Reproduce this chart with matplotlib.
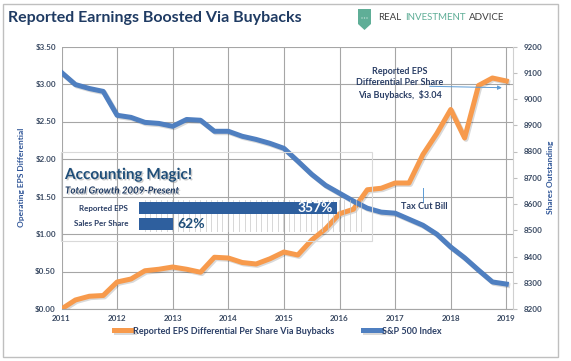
import numpy as np
import matplotlib
matplotlib.use('Agg')
import matplotlib.pyplot as plt
import matplotlib.patheffects as pe
from matplotlib.patches import Rectangle, Polygon, Circle

plt.rcParams['font.family'] = ['Lato', 'DejaVu Sans']

# Daten (quartalsweise 2011 - 2019)
quarters = np.arange(2011, 2019.01, 0.25)
eps_diff = [0.00, 0.12, 0.17, 0.18, 0.36, 0.40, 0.51, 0.53, 0.56, 0.53, 0.49, 0.69,
            0.68, 0.62, 0.60, 0.67, 0.76, 0.72, 0.92, 1.07, 1.27, 1.33, 1.59, 1.61,
            1.68, 1.68, 2.06, 2.34, 2.66, 2.28, 2.98, 3.08, 3.04]
shares = [9101, 9055, 9040, 9029, 8938, 8930, 8911, 8907, 8896, 8922, 8919, 8877,
          8877, 8858, 8846, 8831, 8812, 8763, 8713, 8671, 8641, 8611, 8584, 8569,
          8565, 8542, 8519, 8485, 8436, 8395, 8348, 8303, 8295]
years = list(range(2011, 2020))
left_ticks = [0, 0.5, 1.0, 1.5, 2.0, 2.5, 3.0, 3.5]
right_ticks = list(range(8200, 9201, 100))

growth_labels = ['Reported EPS', 'Sales Per Share']
growth_values = [357, 62]

W, H = 571, 361
navy = '#1F3B63'
tickc = '#3A4A63'
orange = '#F79A4C'
blue = '#4F7FC0'
grid = '#A6A6A6'


def fx(x):
    return x / W


def fy(y):
    return 1 - y / H


fig = plt.figure(figsize=(W / 100, H / 100), dpi=100)

# Rahmen
fig.patches.append(Rectangle((fx(3), fy(357)), fx(555), 353 / H, transform=fig.transFigure,
                             fill=False, edgecolor='#BFBFBF', lw=1))

ax = fig.add_axes([fx(61.5), fy(309), fx(513 - 61.5), (309 - 46.5) / H])
ax2 = ax.twinx()

ax.plot(quarters, eps_diff, color=orange, lw=3.6, solid_joinstyle='round',
        path_effects=[pe.SimpleLineShadow(offset=(1, -1), alpha=0.15), pe.Normal()],
        label='Reported EPS Differential Per Share Via Buybacks')
ax2.plot(quarters, shares, color=blue, lw=3.6, solid_joinstyle='round',
         path_effects=[pe.SimpleLineShadow(offset=(1, -1), alpha=0.15), pe.Normal()],
         label='S&P 500 Index')

ax.set_xlim(2011, 2019.12)
ax.set_ylim(0, 3.5)
ax2.set_ylim(8200, 9200)
ax.set_xticks(years)
ax.set_yticks(left_ticks)
ax.set_yticklabels(['${:.2f}'.format(v) for v in left_ticks])
ax2.set_yticks(right_ticks)

ax.grid(True, color=grid, lw=0.8)
ax.set_axisbelow(True)
for a in (ax, ax2):
    for s in a.spines.values():
        s.set_visible(False)
ax2.spines['right'].set_visible(True)
ax2.spines['right'].set_color('#D0D0D0')
ax.spines['bottom'].set_visible(True)
ax.spines['bottom'].set_color(grid)

ax.tick_params(axis='both', length=0, labelsize=5.8, colors=tickc, pad=4)
ax2.tick_params(axis='y', length=3, color='#BFBFBF', labelsize=5.8, labelcolor=tickc, pad=5)
for lab in ax.get_xticklabels() + ax.get_yticklabels() + ax2.get_yticklabels():
    lab.set_fontweight('bold')

ax.set_ylabel('Operating EPS Differential', fontsize=6, fontweight='bold', color='#2F5597', labelpad=7)
ax2.set_ylabel('Shares Outstanding', fontsize=6, fontweight='bold', color='#2F5597', labelpad=3)

# Annotationen
ax.annotate('', xy=(2018.97, 2.95), xytext=(2017.57, 2.97),
            arrowprops=dict(arrowstyle='-|>', color='#5B9BD5', lw=0.7, mutation_scale=6))
ax.text(2017.09, 3.01, 'Reported EPS\nDifferential Per Share\nVia Buybacks,  $3.04',
        ha='center', va='center', fontsize=6.5, fontweight='bold', color='#2B3F66', linespacing=1.3)
ax.plot([2017.5, 2017.5], [1.43, 1.61], color='#5B9BD5', lw=0.7)
ax.text(2017.52, 1.37, 'Tax Cut Bill', ha='center', va='center', fontsize=6.5,
        fontweight='bold', color='#2B3F66')

# Legende
h1, l1 = ax.get_legend_handles_labels()
h2, l2 = ax2.get_legend_handles_labels()
leg = fig.legend(h1 + h2, l1 + l2, loc='center', bbox_to_anchor=(fx(278), fy(331)), ncol=2,
                 frameon=False, fontsize=6.5, handlelength=2.0, handletextpad=0.1, columnspacing=3.2)
for t in leg.get_texts():
    t.set_fontweight('bold')
    t.set_color('#2B3F66')

# Inset "Accounting Magic!"
fig.patches.append(Rectangle((fx(61), fy(241)), fx(311), 89 / H, transform=fig.transFigure,
                             fill=False, edgecolor='#D9D9D9', lw=0.8))
shadow = [pe.withSimplePatchShadow(offset=(1, -1), shadow_rgbFace='#7F7F7F', alpha=0.4)]
fig.text(fx(65), fy(175), 'Accounting Magic!', fontsize=11, fontweight='bold', color='#1F4E79',
         va='center', ha='left', path_effects=shadow)
fig.text(fx(65), fy(191), 'Total Growth 2009-Present', fontsize=7, fontweight='bold', style='italic',
         color='#1F3B63', va='center', ha='left', path_effects=shadow)

axi = fig.add_axes([fx(139), fy(232), fx(365 - 139), 32 / H])
axi.set_xlim(0, 407)
axi.set_ylim(-0.5, 1.5)
axi.set_xticks(np.arange(10, 401, 10))
axi.grid(True, axis='x', color='#C8C8C8', lw=0.5)
axi.set_axisbelow(True)
axi.patch.set_alpha(0)
for s in axi.spines.values():
    s.set_visible(False)
axi.tick_params(length=0, labelbottom=False, labelleft=False)
ypos = [1, 0]
axi.barh(ypos, growth_values, height=0.72, color='#2E5F9E')
axi.text(growth_values[0] - 8, ypos[0], '{}%'.format(growth_values[0]), ha='right', va='center',
         color='white', fontsize=10, fontweight='bold')
axi.text(growth_values[1] + 7, ypos[1], '{}%'.format(growth_values[1]), ha='left', va='center',
         color='#1F4E79', fontsize=10, fontweight='bold')
for lab, yy in zip(growth_labels, [208, 223]):
    fig.text(fx(128), fy(yy), lab, ha='right', va='center', fontsize=5.8, fontweight='bold', color='#2B3F66')

# Titel
fig.text(fx(8), fy(18), 'Reported Earnings Boosted Via Buybacks', fontsize=11.5, fontweight='bold',
         color=navy, ha='left', va='center')

# Logo
shield = [(358, 9), (371, 9), (371, 24), (364.5, 30), (358, 24)]
fig.patches.append(Polygon([(fx(x), fy(y)) for x, y in shield], closed=True,
                           transform=fig.transFigure, facecolor='#5FAE97', edgecolor='none'))
for dx in (-2.5, 0, 2.5):
    fig.patches.append(Circle((fx(364.5 + dx), fy(18)), 0.7 / W, transform=fig.transFigure,
                              facecolor='white', edgecolor='none'))
fig.text(fx(378), fy(18), 'REAL', fontsize=7, color='#404040', ha='left', va='center')
fig.text(fx(405), fy(18), 'INVESTMENT', fontsize=7, color='#5FAE97', ha='left', va='center')
fig.text(fx(469), fy(18), 'ADVICE', fontsize=7, color='#404040', ha='left', va='center')

fig.savefig('out.png', dpi=100)
